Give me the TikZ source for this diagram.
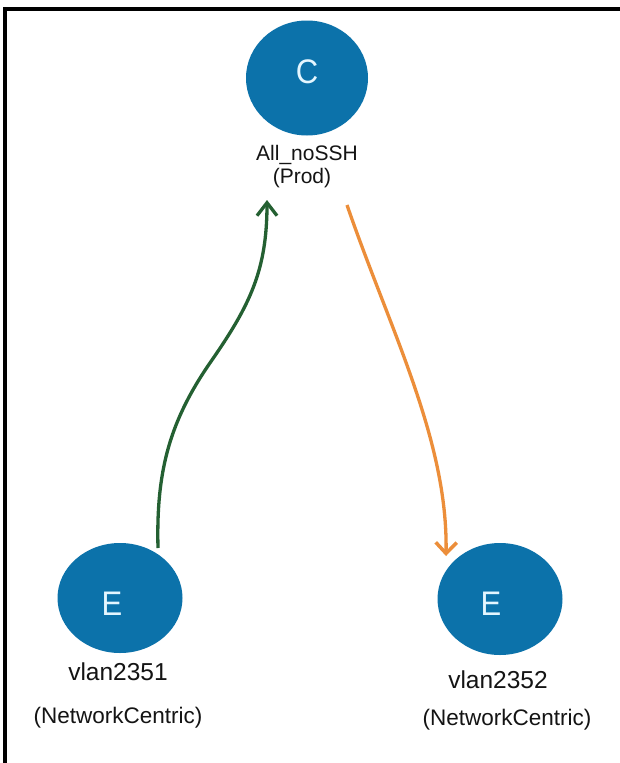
\documentclass[tikz,border=0pt]{standalone}
\usepackage{fontspec}
\setmainfont{Liberation Sans}
\usetikzlibrary{arrows.meta,shapes.geometric}
\definecolor{nodeblue}{RGB}{12,114,170}
\definecolor{arrgreen}{RGB}{36,96,50}
\definecolor{arrorange}{RGB}{236,142,58}
\definecolor{lettercol}{RGB}{228,246,255}
\definecolor{txtcol}{RGB}{20,20,20}
\begin{document}
\begin{tikzpicture}[x=1pt,y=-1pt,
  epg/.style={ellipse, fill=nodeblue, minimum width=125pt, minimum height=110pt, inner sep=0pt},
  letter/.style={text=lettercol, inner sep=0pt, anchor=base, font=\fontsize{31}{31}\selectfont},
  namelbl/.style={text=txtcol, inner sep=0pt, anchor=base, font=\fontsize{21}{21}\selectfont},
  biglbl/.style={text=txtcol, inner sep=0pt, anchor=base, font=\fontsize{24.5}{24.5}\selectfont},
  subbig/.style={text=txtcol, inner sep=0pt, anchor=base, font=\fontsize{22.5}{22.5}\selectfont},
  flowgreen/.style={draw=arrgreen, line width=3.3pt, -{Straight Barb[length=13pt,width=20pt,line width=3.3pt]}},
  floworange/.style={draw=arrorange, line width=3.3pt, -{Straight Barb[length=11pt,width=21pt,line width=3.5pt]}}]
\useasboundingbox (0,0) rectangle (619,763);
\fill[white] (0,0) rectangle (619,763);
\draw[line width=4.5pt, line cap=rect] (5,763) -- (5,9) -- (619,9);

% top node C
\node[epg, minimum width=122pt, minimum height=115pt] (c) at (307,78) {};
\node[letter, yscale=1.1] (cletter) at (307,83) {C};
\node[namelbl] (cname) at (307,160) {All\_noSSH};
\node[namelbl] (cprod) at (302,183) {(Prod)};

% left node E
\node[epg] (e1) at (120,598) {};
\node[letter, yscale=1.1, font=\fontsize{31}{31}\selectfont] (e1letter) at (112,615) {E};
\node[biglbl] (e1name) at (118,680) {vlan2351};
\node[subbig] (e1sub) at (118,723) {(NetworkCentric)};

% right node E
\node[epg, minimum height=112pt] (e2) at (500,599) {};
\node[letter, yscale=1.1, font=\fontsize{31}{31}\selectfont] (e2letter) at (491,615) {E};
\node[biglbl] (e2name) at (498,688) {vlan2352};
\node[subbig] (e2sub) at (507,725) {(NetworkCentric)};

% connector ends
\coordinate (gstart) at (158,548);
\coordinate (gmid) at (212,360);
\coordinate (gend) at (267,200);
\coordinate (ostart) at (347,205);
\coordinate (oend) at (446,556);

\draw[flowgreen] (gstart) .. controls (156,470) and (170,420) .. (gmid)
  .. controls (250,305) and (267,270) .. (gend);
\draw[floworange] (ostart) .. controls (390,330) and (448,440) .. (oend);
\end{tikzpicture}
\end{document}
